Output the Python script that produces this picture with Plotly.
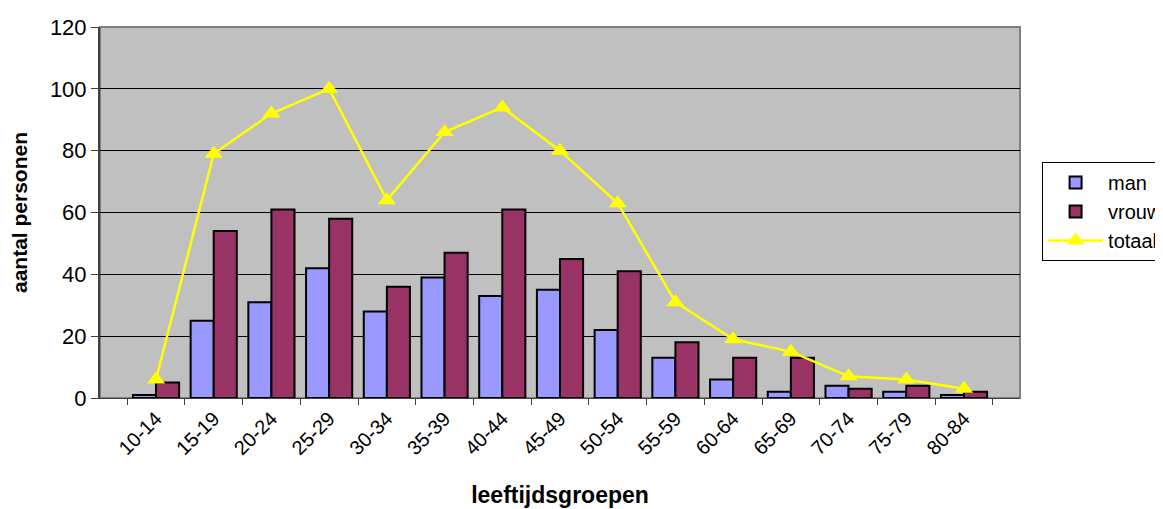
import plotly.graph_objects as go

groepen = ['10-14', '15-19', '20-24', '25-29', '30-34', '35-39', '40-44', '45-49',
           '50-54', '55-59', '60-64', '65-69', '70-74', '75-79', '80-84']
man = [1, 25, 31, 42, 28, 39, 33, 35, 22, 13, 6, 2, 4, 2, 1]
vrouw = [5, 54, 61, 58, 36, 47, 61, 45, 41, 18, 13, 13, 3, 4, 2]
totaal = [6, 79, 92, 100, 64, 86, 94, 80, 63, 31, 19, 15, 7, 6, 3]

fig = go.Figure()

fig.add_trace(go.Bar(
    x=groepen, y=man, name='man',
    marker=dict(color='#9999FF', line=dict(color='black', width=2))
))
fig.add_trace(go.Bar(
    x=groepen, y=vrouw, name='vrouw',
    marker=dict(color='#993366', line=dict(color='black', width=2))
))
fig.add_trace(go.Scatter(
    x=groepen, y=totaal, name='totaal',
    mode='lines+markers',
    line=dict(color='#FFFF00', width=2.5),
    marker=dict(symbol='triangle-up', size=16, color='#FFFF00')
))

# pagina heeft 8px body-marge, daarom figuur iets kleiner
fig.update_layout(
    width=1155, height=501,
    margin=dict(l=92, r=143, t=19, b=111, autoexpand=False),
    paper_bgcolor='white',
    plot_bgcolor='#C0C0C0',
    font=dict(family='Liberation Sans, Arial, sans-serif', color='black', size=20),
    barmode='group',
    bargap=0.2,
    bargroupgap=0,
    showlegend=True,
    legend=dict(
        x=1.024, y=0.636, xanchor='left', yanchor='top',
        bordercolor='black', borderwidth=1, bgcolor='white',
        font=dict(size=20), tracegroupgap=0, itemwidth=55
    )
)

fig.update_xaxes(
    type='category',
    tickangle=-45,
    tickfont=dict(size=20),
    ticks='outside', ticklen=6, tickcolor='#404040',
    tickson='boundaries',
    showline=True, linecolor='#404040', linewidth=1,
    showgrid=False, automargin=False,
    title=dict(text='<b>leeftijdsgroepen</b>', font=dict(size=23), standoff=28)
)
fig.update_yaxes(
    range=[0, 120], dtick=20,
    tickfont=dict(size=22),
    ticks='outside', ticklen=7, tickcolor='#404040',
    showline=True, linecolor='#404040', linewidth=2,
    showgrid=True, gridcolor='black', gridwidth=1,
    zeroline=False, automargin=False,
    title=dict(text='<b>aantal personen</b>', font=dict(size=21), standoff=20)
)

# grijze rand rond het plotgebied
fig.add_shape(type='rect', xref='paper', yref='paper', x0=0, y0=0, x1=1, y1=1,
              line=dict(color='#808080', width=2), layer='below')

fig.write_html('out.html')
